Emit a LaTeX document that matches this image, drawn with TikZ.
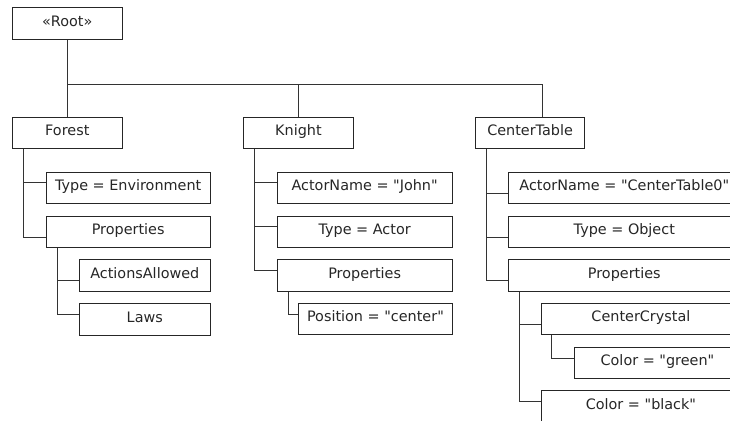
\documentclass[tikz,border=0pt]{standalone}
\usepackage{fontspec}
\setmainfont{DejaVu Sans}[Ligatures=TeXOff]
\usetikzlibrary{calc}
\begin{document}
\begin{tikzpicture}[x=1pt,y=-1pt,
  box/.style={draw=black!85, line width=0.9pt, rectangle, inner sep=0pt,
    minimum height=31.6pt, anchor=north west, text height=10pt, text depth=4pt,
    font=\fontsize{14.4}{17}\selectfont, text=black!85},
  link/.style={draw=black!80, line width=0.9pt}]
\useasboundingbox (0,0) rectangle (730,420);
\clip (0,0) rectangle (730,420);
% top level
\node[box, minimum width=109.7pt] (root) at (12,7.3) {«Root»};
\node[box, minimum width=109.7pt] (forest) at (12,116.7) {Forest};
\node[box, minimum width=109.4pt] (knight) at (243.3,116.7) {Knight};
\node[box, minimum width=109.3pt] (ctable) at (475,116.7) {CenterTable};
% forest subtree
\node[box, minimum width=164pt] (typeenv) at (45.7,171.7) {Type = Environment};
\node[box, minimum width=164pt] (fprops) at (45.7,215.7) {Properties};
\node[box, minimum width=130.7pt] (actions) at (79,259.3) {ActionsAllowed};
\node[box, minimum width=130.7pt] (laws) at (79,303) {Laws};
% knight subtree
\node[box, minimum width=175pt] (actorjohn) at (276.7,171.7) {ActorName = "John"};
\node[box, minimum width=175pt] (typeactor) at (276.7,215.7) {Type = Actor};
\node[box, minimum width=175pt] (kprops) at (276.7,259.3) {Properties};
\node[box, minimum width=153.4pt] (position) at (298.3,302.7) {Position = "center"};
% centertable subtree
\node[box, minimum width=232.3pt] (actorct) at (507.7,171.7) {ActorName = "CenterTable0"};
\node[box, minimum width=232.3pt] (typeobj) at (507.7,215.7) {Type = Object};
\node[box, minimum width=232.3pt] (cprops) at (507.7,259.3) {Properties};
\node[box, minimum width=199pt] (crystal) at (541,302.7) {CenterCrystal};
\node[box, minimum width=166pt] (green) at (574,346.7) {Color = "green"};
\node[box, minimum width=199pt] (black) at (541,390) {Color = "black"};
% root connectors
\coordinate (bus) at ($(root.south)+(0,44.7)$);
\draw[link] (root.south) -- (forest.north);
\draw[link] (bus) -| (knight.north);
\draw[link] (bus) -| ([xshift=12pt]ctable.north);
% forest
\draw[link] ([xshift=11.3pt]forest.south west) |- ([yshift=-11pt]typeenv.north west);
\draw[link] ([xshift=11.3pt]forest.south west) |- ([yshift=-21.6pt]fprops.north west);
\draw[link] ([xshift=11.3pt]fprops.south west) |- ([yshift=-21.6pt]actions.north west);
\draw[link] ([xshift=11.3pt]fprops.south west) |- ([yshift=-11pt]laws.north west);
% knight
\draw[link] ([xshift=11.3pt]knight.south west) |- ([yshift=-11pt]actorjohn.north west);
\draw[link] ([xshift=11.3pt]knight.south west) |- ([yshift=-11pt]typeactor.north west);
\draw[link] ([xshift=11.3pt]knight.south west) |- ([yshift=-11.5pt]kprops.north west);
\draw[link] ([xshift=11.3pt]kprops.south west) |- ([yshift=-12pt]position.north west);
% centertable
\draw[link] ([xshift=11.3pt]ctable.south west) |- ([yshift=-21.6pt]actorct.north west);
\draw[link] ([xshift=11.3pt]ctable.south west) |- ([yshift=-21.6pt]typeobj.north west);
\draw[link] ([xshift=11.3pt]ctable.south west) |- ([yshift=-21.6pt]cprops.north west);
\draw[link] ([xshift=11.3pt]cprops.south west) |- ([yshift=-22pt]crystal.north west);
\draw[link] ([xshift=11.3pt]cprops.south west) |- ([yshift=-11.5pt]black.north west);
\draw[link] ([xshift=10.7pt]crystal.south west) |- ([yshift=-11.5pt]green.north west);
\end{tikzpicture}
\end{document}
